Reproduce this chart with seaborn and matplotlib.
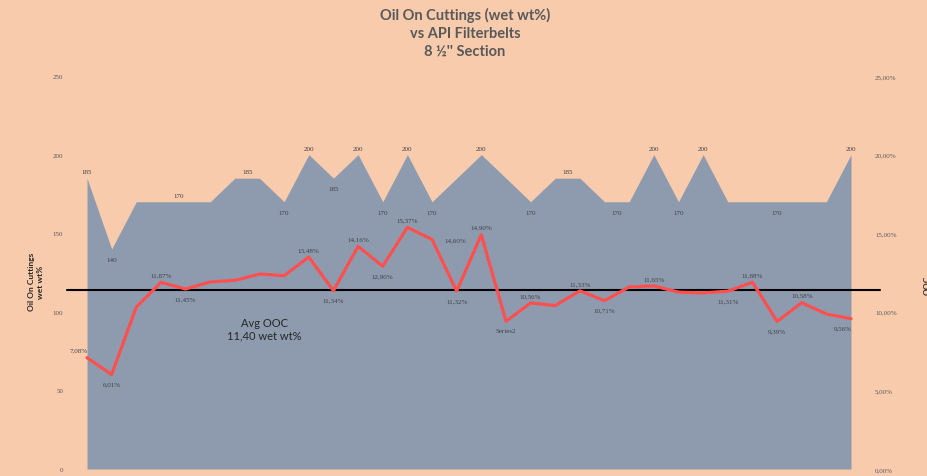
import matplotlib
matplotlib.use("Agg")
import matplotlib.pyplot as plt
import seaborn as sns
import pandas as pd

# Filterbelt mesh (API) per sample - area series, left axis
api_mesh = [185, 140, 170, 170, 170, 170, 185, 185, 170, 200, 185, 200, 170, 200, 170, 185,
            200, 185, 170, 185, 185, 170, 170, 200, 170, 200, 170, 170, 170, 170, 170, 200]
# Oil on cuttings (wet wt%) - line series, right axis
ooc = [7.08, 6.01, 10.30, 11.87, 11.45, 11.90, 12.00, 12.40, 12.30, 13.48, 11.34, 14.16, 12.90,
       15.37, 14.60, 11.32, 14.90, 9.40, 10.56, 10.40, 11.33, 10.71, 11.58, 11.65, 11.25, 11.20,
       11.31, 11.88, 9.39, 10.58, 9.86, 9.56]
avg_ooc = 11.40

# which points get data labels ("a" = above, "b" = below, "r" = right, "bl" = below-left)
api_label_pts = [(0, "a"), (1, "b"), (3.7, "a"), (6.5, "a"), (8, "b"), (9, "a"), (10, "b"),
                 (11, "a"), (12, "b"), (13, "a"), (14, "b"), (16, "a"), (18, "b"), (19.5, "a"),
                 (21.5, "b"), (23, "a"), (24, "b"), (25, "a"), (28, "b"), (31, "a")]
ooc_label_pts = [(0, "al"), (1, "b"), (3, "a"), (4, "b"), (9, "a"), (10, "b"), (11, "a"),
                 (12, "b"), (13, "a"), (14, "r"), (15, "b"), (16, "a"), (17, "b"), (18, "a"),
                 (20, "a"), (21, "b"), (23, "a"), (26, "b"), (27, "a"), (28, "b"), (29, "a"),
                 (31, "bl")]
ooc_label_override = {17: "Series2"}

bg = "#F8CBAD"
area_col = "#8E9BAF"
line_col = "#FF4F4F"
txt_col = "#404040"

sns.set_style("white")
plt.rcParams["font.family"] = ["Lato", "DejaVu Sans"]

df = pd.DataFrame({"idx": range(len(ooc)), "api": api_mesh, "ooc": ooc})

fig = plt.figure(figsize=(9.27, 4.77), dpi=100, facecolor=bg)
ax = fig.add_axes([70 / 927, 7 / 477, 798 / 927, 393 / 477])
ax.set_facecolor(bg)
ax.fill_between(df["idx"], 0, df["api"], color=area_col, linewidth=0, zorder=1)
ax.set_xlim(-0.69, len(ooc) - 1 + 0.69)
ax.set_ylim(0, 250)
ax.set_yticks(range(0, 251, 50))
ax.set_xticks([])
ax.tick_params(axis="y", length=0, labelsize=5, labelcolor="#595959", pad=5)
for t in ax.get_yticklabels():
    t.set_family("Liberation Serif")
for s in ax.spines.values():
    s.set_visible(False)

for x, pos in api_label_pts:
    v = api_mesh[int(x)]
    if pos == "a":
        ax.annotate(str(v), (x, v), xytext=(0, 4), textcoords="offset pixels",
                    ha="center", va="bottom", fontsize=5, color=txt_col, family="Liberation Serif")
    else:
        ax.annotate(str(v), (x, v), xytext=(0, -8), textcoords="offset pixels",
                    ha="center", va="top", fontsize=5, color=txt_col, family="Liberation Serif")

ax2 = ax.twinx()
ax2.set_ylim(0, 25)
ax2.set_yticks(range(0, 26, 5))
ax2.set_yticklabels([f"{t:.2f}%".replace(".", ",") for t in range(0, 26, 5)])
ax2.tick_params(axis="y", length=0, labelsize=5, labelcolor="#595959", pad=5)
for t in ax2.get_yticklabels():
    t.set_family("Liberation Serif")
for s in ax2.spines.values():
    s.set_visible(False)

ax2.axhline(avg_ooc, xmin=-3 / 798, xmax=1 + 12 / 798, color="black", lw=1.5,
            clip_on=False, zorder=2)
sns.lineplot(data=df, x="idx", y="ooc", ax=ax2, color=line_col, lw=2.3, zorder=3, legend=False)
ax2.set_xlabel("")
ax2.set_ylabel("")
ax2.set_xlim(ax.get_xlim())

offsets = {"a": (0, 5, "center", "bottom"), "b": (0, -7, "center", "top"),
           "al": (-8, 5, "center", "bottom"), "r": (23, 0, "center", "center"),
           "bl": (-8, -7, "center", "top")}
for i, pos in ooc_label_pts:
    lab = ooc_label_override.get(i, f"{ooc[i]:.2f}%".replace(".", ","))
    dx, dy, ha, va = offsets[pos]
    ax2.annotate(lab, (i, ooc[i]), xytext=(dx, dy), textcoords="offset pixels",
                 ha=ha, va=va, fontsize=5, color=txt_col, family="Liberation Serif")

ax2.text(7.2, avg_ooc - 1.7, "Avg OOC\n" + f"{avg_ooc:.2f}".replace(".", ",") + " wet wt%",
         ha="center", va="top", fontsize=8, color="#262626", linespacing=1.2)

fig.text(465 / 927, 1 - 33 / 477, "Oil On Cuttings (wet wt%)\nvs API Filterbelts\n8 \u00bd'' Section",
         ha="center", va="center", fontsize=10.5, fontweight="bold", color="#595959", linespacing=1.35)
fig.text(36 / 927, 1 - 282 / 477, "Oil On Cuttings\nwet wt%", rotation=90, ha="center", va="center",
         fontsize=6, fontweight="bold", color="#262626")
# right-hand axis title, mostly cut off by the figure edge as in the original
fig.text(923.5 / 927, 1 - 285 / 477, "OOC", rotation=90, ha="left", va="center",
         fontsize=6, fontweight="bold", color="#262626")

fig.savefig("out.png", dpi=100, facecolor=bg)
